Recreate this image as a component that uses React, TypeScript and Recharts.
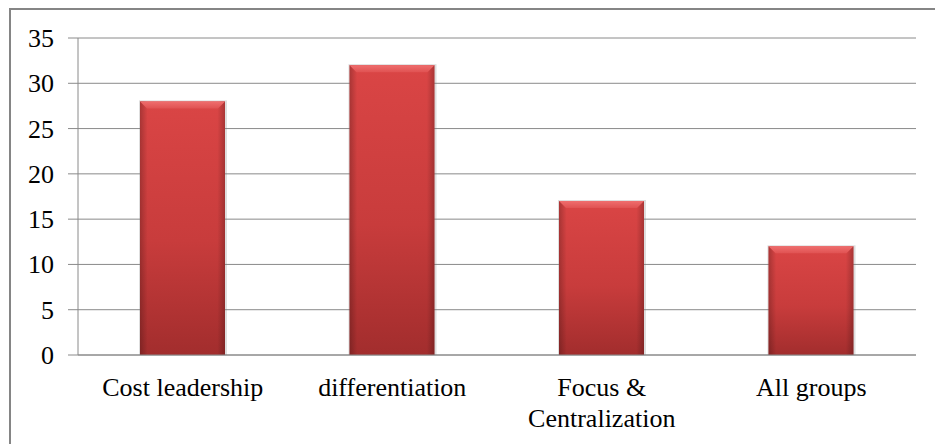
import { Bar, BarChart, CartesianGrid, XAxis, YAxis } from "recharts";

const categories = ["Cost leadership", "differentiation", "Focus & Centralization", "All groups"];
const values = [28, 32, 17, 12];
const yTicks = [0, 5, 10, 15, 20, 25, 30, 35];
const boundaryTicks = [0, 1, 2, 3, 4];

// some labels break onto two lines like the original
const labelLines: Record<string, string[]> = {
  "Focus & Centralization": ["Focus &", "Centralization"],
};

const FONT = "Liberation Serif, Times New Roman, DejaVu Serif, serif";
const GRID = "#8a8a8a";

const data = categories.map((name, i) => ({ name, value: values[i] }));

function CategoryTick(props: any) {
  const { x, y, payload } = props;
  const lines = labelLines[payload.value] ?? [payload.value];
  return (
    <text
      x={x}
      y={y}
      textAnchor="middle"
      fill="#000"
      fontSize={26}
      style={{ fontFamily: FONT }}
    >
      {lines.map((line, i) => (
        <tspan key={i} x={x} dy={i === 0 ? 41 : 31}>
          {line}
        </tspan>
      ))}
    </text>
  );
}

function ValueTick(props: any) {
  const { x, y, payload } = props;
  return (
    <text
      x={x}
      y={y}
      dy={9}
      textAnchor="end"
      fill="#000"
      fontSize={26}
      style={{ fontFamily: FONT }}
    >
      {payload.value}
    </text>
  );
}

function BevelBar(props: any) {
  const { x, y, width, height } = props;
  if (!height || height <= 0) return null;
  const b = 7;
  return (
    <g>
      <rect x={x - 1} y={y - 1} width={width + 3} height={height + 1} fill="#7a7a7a" opacity={0.25} />
      <rect x={x} y={y} width={width} height={height} fill="url(#barBody)" />
      <rect x={x} y={y} width={width} height={height} fill="url(#barEdges)" />
      <polygon
        points={`${x},${y} ${x + width},${y} ${x + width - b},${y + b} ${x + b},${y + b}`}
        fill="url(#barTop)"
      />
    </g>
  );
}

export default function App() {
  return (
    <div
      style={{
        position: "absolute",
        left: 0,
        top: 0,
        width: 935,
        height: 444,
        overflow: "hidden",
        background: "#fff",
        fontFamily: FONT,
      }}
    >
      <div
        style={{
          position: "absolute",
          left: 9,
          top: 8,
          width: 1000,
          height: 1000,
          borderTop: "2px solid #858585",
          borderLeft: "2px solid #858585",
        }}
      />
      <div style={{ position: "absolute", left: 0, top: 0 }}>
        <BarChart
          width={935}
          height={444}
          data={data}
          margin={{ top: 38, right: 19, left: 0, bottom: 0 }}
          barSize={85}
        >
          <defs>
            <linearGradient id="barBody" x1="0" y1="0" x2="0" y2="1">
              <stop offset="0%" stopColor="#da4545" />
              <stop offset="55%" stopColor="#c83c3c" />
              <stop offset="100%" stopColor="#a22d2d" />
            </linearGradient>
            <linearGradient id="barEdges" x1="0" y1="0" x2="1" y2="0">
              <stop offset="0%" stopColor="#000" stopOpacity={0.22} />
              <stop offset="9%" stopColor="#000" stopOpacity={0} />
              <stop offset="91%" stopColor="#000" stopOpacity={0} />
              <stop offset="100%" stopColor="#000" stopOpacity={0.22} />
            </linearGradient>
            <linearGradient id="barTop" x1="0" y1="0" x2="0" y2="1">
              <stop offset="0%" stopColor="#ef6e6e" />
              <stop offset="100%" stopColor="#e05252" />
            </linearGradient>
          </defs>
          <CartesianGrid vertical={false} stroke={GRID} strokeWidth={1} />
          <XAxis
            xAxisId="edges"
            type="number"
            domain={[0, 4]}
            ticks={boundaryTicks}
            tick={false}
            tickSize={8}
            tickLine={{ stroke: GRID }}
            axisLine={false}
            height={0}
          />
          <XAxis
            dataKey="name"
            interval={0}
            tick={<CategoryTick />}
            tickLine={false}
            tickSize={0}
            tickMargin={0}
            axisLine={{ stroke: GRID }}
            height={89}
          />
          <YAxis
            domain={[0, 35]}
            ticks={yTicks}
            interval={0}
            width={78}
            tickSize={10}
            tickMargin={14}
            tickLine={{ stroke: GRID }}
            axisLine={{ stroke: GRID }}
            tick={<ValueTick />}
          />
          <Bar dataKey="value" shape={<BevelBar />} isAnimationActive={false} />
        </BarChart>
      </div>
    </div>
  );
}
